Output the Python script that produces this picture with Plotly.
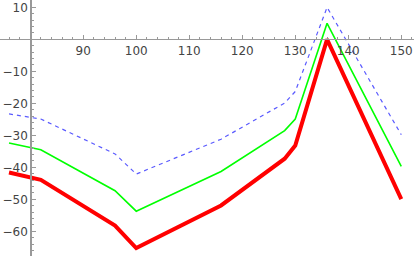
import plotly.graph_objects as go

x_vals = [76, 82, 96, 100, 116, 128, 130, 136, 150]
red_vals = [-41.6, -43.9, -58.2, -65.2, -51.9, -37.3, -33.2, 0, -49.9]
green_vals = [-32.4, -34.5, -47.3, -53.7, -41.3, -28.5, -24.9, 5, -39.7]
blue_vals = [-23.3, -24.9, -35.8, -42.1, -31.2, -19.9, -16.3, 10, -29.8]

x_ticks = [90, 100, 110, 120, 130, 140, 150]
y_ticks = [-60, -50, -40, -30, -20, -10, 10]

x_range = [74.3, 152.4]
y_range = [-67.7, 12.3]
x_origin = 80
y_origin = 0

fig = go.Figure()
fig.add_trace(go.Scatter(x=x_vals, y=blue_vals, mode="lines",
                         line=dict(color="#5a5aff", width=1.2, dash="4px,4px")))
fig.add_trace(go.Scatter(x=x_vals, y=green_vals, mode="lines",
                         line=dict(color="#00ff00", width=1.6)))
fig.add_trace(go.Scatter(x=x_vals, y=red_vals, mode="lines",
                         line=dict(color="#ff0000", width=4)))

xpos = (y_origin - y_range[0]) / (y_range[1] - y_range[0])
ypos = (x_origin - x_range[0]) / (x_range[1] - x_range[0])

axis_color = "#999999"
font = dict(family="DejaVu Sans", size=12, color="#444444")

fig.update_layout(
    width=414, height=256,
    margin=dict(l=0, r=0, t=0, b=0),
    paper_bgcolor="white", plot_bgcolor="white",
    showlegend=False,
    xaxis=dict(range=x_range, anchor="free", position=xpos, automargin=False,
               showgrid=False, zeroline=False, showline=True,
               linecolor=axis_color, linewidth=1,
               tickmode="array", tickvals=x_ticks,
               ticks="inside", ticklen=4, tickcolor=axis_color,
               tickfont=font,
               minor=dict(tickmode="linear", tick0=0, dtick=2, ticks="inside",
                          ticklen=2, tickcolor=axis_color)),
    yaxis=dict(range=y_range, anchor="free", position=ypos, automargin=False,
               showgrid=False, zeroline=False, showline=True,
               linecolor=axis_color, linewidth=1.5,
               tickmode="array", tickvals=y_ticks,
               ticks="inside", ticklen=4, tickcolor=axis_color,
               tickfont=font,
               minor=dict(tickmode="linear", tick0=0, dtick=2, ticks="inside",
                          ticklen=2, tickcolor=axis_color)),
)

fig.write_html("out.html",
               config={"displayModeBar": False, "staticPlot": True},
               post_script="document.body.style.margin='0';document.body.style.overflow='hidden';")
